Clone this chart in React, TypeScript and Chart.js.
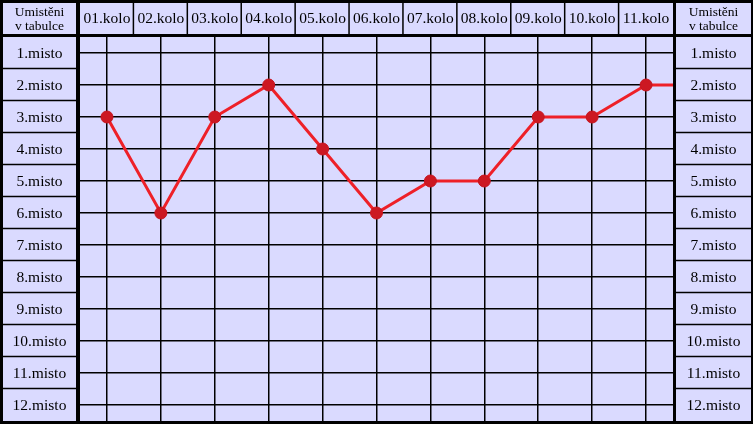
import React, { useEffect, useRef } from "react";
import { Chart, registerables } from "chart.js";

Chart.register(...registerables);

const rounds = ["01.kolo", "02.kolo", "03.kolo", "04.kolo", "05.kolo", "06.kolo", "07.kolo", "08.kolo", "09.kolo", "10.kolo", "11.kolo"];
const places = ["1.misto", "2.misto", "3.misto", "4.misto", "5.misto", "6.misto", "7.misto", "8.misto", "9.misto", "10.misto", "11.misto", "12.misto"];
// placement after each round (last value continues beyond the visible rounds)
const placement = [3, 6, 3, 2, 4, 6, 5, 5, 3, 3, 2, 2];
const cornerTitle = ["Umistěni", "v tabulce"];

const BG = "#dadaff";
const FONT = "'Liberation Serif', 'Times New Roman', serif";

const tablePlugin = {
  id: "tableFrame",
  beforeDraw(chart: any) {
    const { ctx, chartArea: a, width, height } = chart;
    const xs = chart.scales.x;
    const ys = chart.scales.y;
    ctx.save();
    ctx.fillStyle = "#000";
    ctx.fillRect(0, 0, width, height);
    ctx.fillStyle = BG;
    const hTop = 3;
    const hBot = a.top - 3;
    const lL = 3;
    const lR = a.left - 4;
    const rL = a.right + 3;
    const rR = width - 2;
    ctx.fillRect(a.left, a.top, a.right - a.left, a.bottom - a.top);
    ctx.fillRect(a.left, hTop, a.right - a.left, hBot - hTop);
    ctx.fillRect(lL, hTop, lR - lL, hBot - hTop);
    ctx.fillRect(lL, a.top, lR - lL, a.bottom - a.top);
    ctx.fillRect(rL, hTop, rR - rL, hBot - hTop);
    ctx.fillRect(rL, a.top, rR - rL, a.bottom - a.top);

    ctx.strokeStyle = "#000";
    ctx.lineWidth = 1.5;
    ctx.beginPath();
    for (let i = 0; i < rounds.length - 1; i++) {
      const px = xs.getPixelForValue(i + 0.5) - 0.5;
      ctx.moveTo(px, hTop);
      ctx.lineTo(px, hBot);
    }
    for (let i = 1; i < places.length; i++) {
      const py = ys.getPixelForValue(i + 0.5) - 0.5;
      ctx.moveTo(lL, py);
      ctx.lineTo(lR, py);
      ctx.moveTo(rL, py);
      ctx.lineTo(rR, py);
    }
    ctx.stroke();

    ctx.fillStyle = "#000";
    ctx.textAlign = "center";
    ctx.textBaseline = "middle";
    ctx.font = `15.5px ${FONT}`;
    const hMid = (hTop + hBot) / 2 + 0.5;
    rounds.forEach((r, i) => {
      ctx.fillText(r, xs.getPixelForValue(i), hMid);
    });
    const lMid = (lL + lR) / 2;
    const rMid = (rL + rR) / 2;
    places.forEach((p, i) => {
      const py = ys.getPixelForValue(i + 1) + 0.5;
      ctx.fillText(p, lMid, py);
      ctx.fillText(p, rMid, py);
    });
    ctx.font = `13.5px ${FONT}`;
    cornerTitle.forEach((t, i) => {
      const py = hMid - 6.5 + i * 14;
      ctx.fillText(t, lMid, py);
      ctx.fillText(t, rMid, py);
    });
    ctx.restore();
  },
};

export default function App() {
  const ref = useRef<HTMLCanvasElement | null>(null);
  useEffect(() => {
    if (!ref.current) return;
    const chart = new Chart(ref.current, {
      type: "line",
      data: {
        datasets: [
          {
            data: placement.map((v, i) => ({ x: i, y: v })),
            borderColor: "#ee2028",
            borderWidth: 3,
            pointRadius: 6,
            pointBackgroundColor: "#cc1822",
            pointBorderColor: "#c8141e",
            pointBorderWidth: 1,
            tension: 0,
          },
        ],
      },
      options: {
        animation: false,
        responsive: false,
        devicePixelRatio: 1,
        events: [],
        layout: { autoPadding: false, padding: { left: 0, right: 0, top: 0, bottom: 3 } },
        plugins: { legend: { display: false }, tooltip: { enabled: false } },
        scales: {
          x: {
            type: "linear",
            position: "top",
            min: -0.5,
            max: rounds.length - 0.5,
            afterBuildTicks: (s: any) => {
              s.ticks = rounds.map((_, i) => ({ value: i }));
            },
            afterFit: (s: any) => {
              s.height = 37;
            },
            ticks: { display: false },
            grid: { color: "#000", lineWidth: 1.5, drawTicks: false },
            border: { display: false },
          },
          y: {
            type: "linear",
            position: "left",
            reverse: true,
            min: 0.5,
            max: places.length + 0.5,
            afterBuildTicks: (s: any) => {
              s.ticks = places.map((_, i) => ({ value: i + 1 }));
            },
            afterFit: (s: any) => {
              s.width = 80;
            },
            ticks: { display: false },
            grid: { color: "#000", lineWidth: 1.5, drawTicks: false },
            border: { display: false },
          },
          yR: {
            type: "linear",
            position: "right",
            reverse: true,
            min: 0.5,
            max: places.length + 0.5,
            afterFit: (s: any) => {
              s.width = 80;
            },
            ticks: { display: false },
            grid: { display: false, drawTicks: false },
            border: { display: false },
          },
        },
      },
      plugins: [tablePlugin],
    });
    return () => chart.destroy();
  }, []);
  return (
    <div style={{ position: "absolute", left: 0, top: 0, width: 753, height: 424 }}>
      <canvas ref={ref} width={753} height={424} style={{ display: "block" }} />
    </div>
  );
}
